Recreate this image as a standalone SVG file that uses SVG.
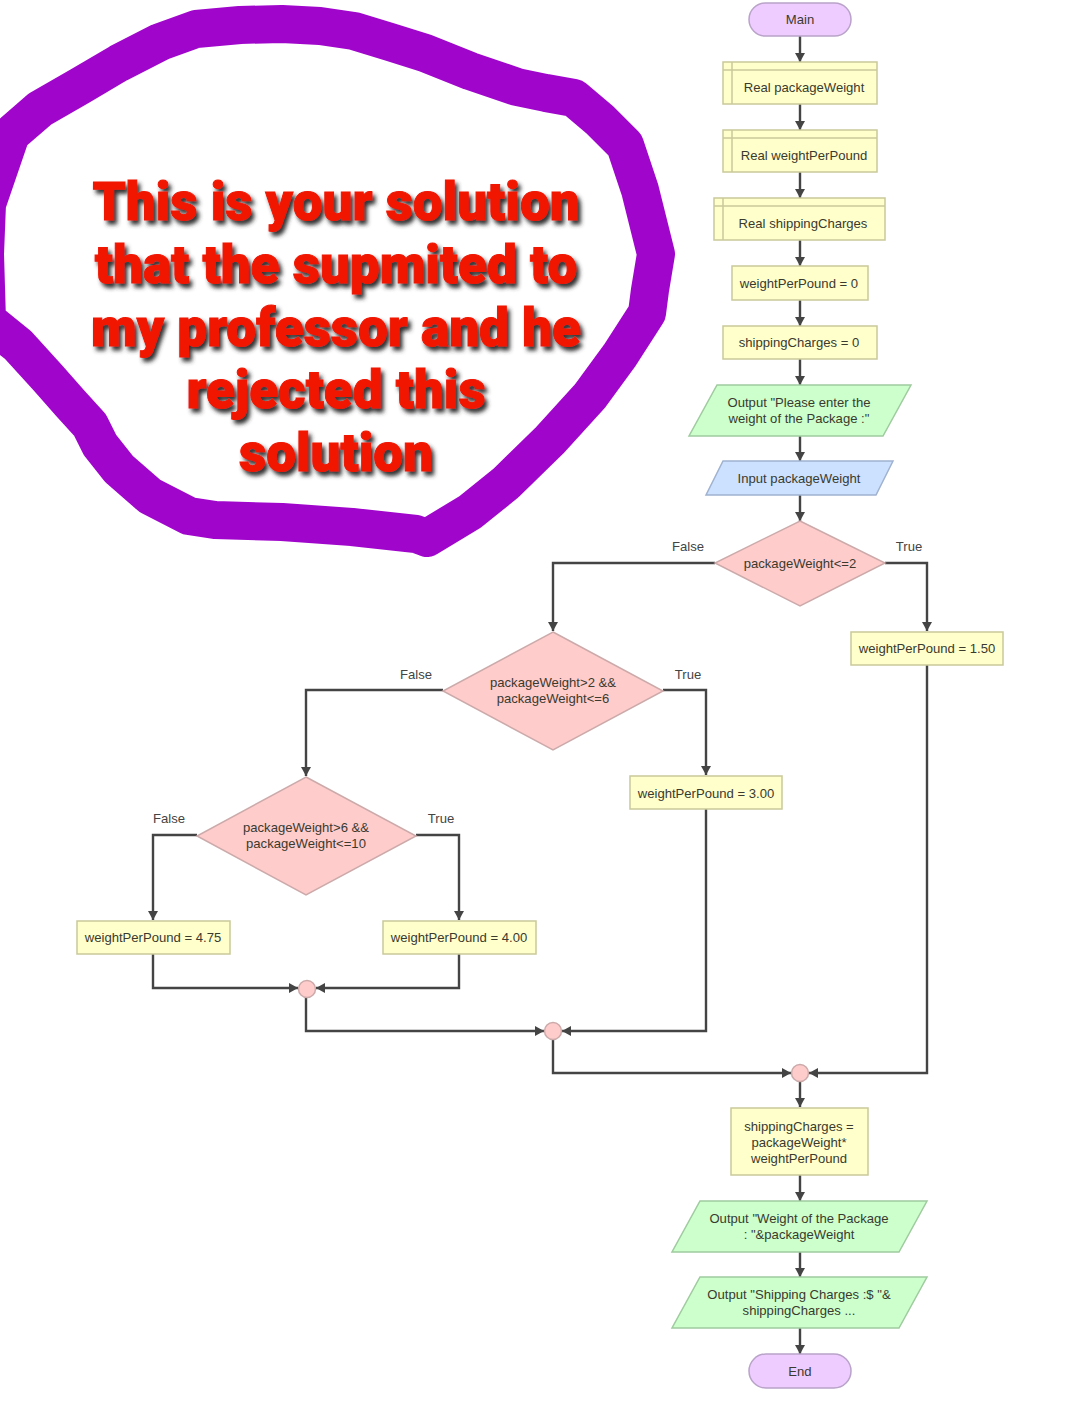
<svg xmlns="http://www.w3.org/2000/svg" width="1080" height="1406" viewBox="0 0 1080 1406">
<style>
.t{font-family:"Liberation Sans",Arial,sans-serif;font-size:13.1px;fill:#3a3a2e;text-anchor:middle}
.l{font-family:"Liberation Sans",Arial,sans-serif;font-size:13.1px;fill:#444;text-anchor:middle}
.y{fill:#ffffcc;stroke:#c9c99b;stroke-width:1.5}
.p{fill:#eeccff;stroke:#b9a3c9;stroke-width:1.5}
.g{fill:#ccffcc;stroke:#9fcb9f;stroke-width:1.5}
.b{fill:#cce0ff;stroke:#9fb3d0;stroke-width:1.5}
.r{fill:#ffcccc;stroke:#ccaaaa;stroke-width:1.5}
.c{fill:none;stroke:#444;stroke-width:2.4;marker-end:url(#a)}
.big{font-family:Roboto,"Liberation Sans",sans-serif;font-weight:900;font-size:53px;fill:#f01400;stroke:#f01400;stroke-width:1;text-anchor:middle;filter:url(#s)}
</style>
<defs>
<marker id="a" markerUnits="userSpaceOnUse" markerWidth="9" markerHeight="10" refX="9" refY="5" orient="auto"><path d="M0 0L9 5L0 10Z" fill="#444"/></marker>
<filter id="s" x="-10%" y="-20%" width="120%" height="150%"><feDropShadow dx="3" dy="4" stdDeviation="2" flood-color="#333"/></filter>
</defs>
<rect width="1080" height="1406" fill="#fff"/>
<g id="ring"><path d="M427 538L416 534L352 527L282 522L215 520L189 516L150 496L119 469L100 445L90 425L70 403L48 378L18 345L-13 320L-15 254L-13 204L11 134L40 109L80 86L119 63L160 42L196 29L240 25L282 24L320 26L354 31L390 42L425 53L470 71L517 87L546 93L574 98L600 120L625 145L640 190L656 254L650 290L647 313L620 355L590 396L550 440L506 483L470 512L427 538" fill="none" stroke="#a005cc" stroke-width="38" stroke-linecap="round" stroke-linejoin="round"/></g>
<g id="note">
<text class="big" x="336" y="220">This is your solution</text>
<text class="big" x="336" y="283">that the supmited to</text>
<text class="big" x="336" y="346">my professor and he</text>
<text class="big" x="336" y="408">rejected this</text>
<text class="big" x="336" y="471">solution</text>
</g>
<g id="connectors">
<path class="c" d="M800 36V62"/><path class="c" d="M800 104V130"/><path class="c" d="M800 172V198"/><path class="c" d="M800 240V266"/><path class="c" d="M800 300V326"/><path class="c" d="M800 359V385"/><path class="c" d="M800 436V461"/><path class="c" d="M800 495V521"/>
<path class="c" d="M715 563H553V631"/><path class="c" d="M885 563H927V631"/>
<path class="c" d="M443 690H306V776"/><path class="c" d="M663 690H706V775"/>
<path class="c" d="M197 835H153V920"/><path class="c" d="M416 835H459V920"/>
<path class="c" d="M153 954V988H298"/><path class="c" d="M459 954V988H316"/>
<path class="c" d="M306 998V1031H544"/><path class="c" d="M706 809V1031H562"/>
<path class="c" d="M553 1040V1073H791"/><path class="c" d="M927 665V1073H809"/>
<path class="c" d="M800 1082V1107"/><path class="c" d="M800 1175V1201"/><path class="c" d="M800 1252V1277"/><path class="c" d="M800 1328V1354"/>
</g>
<g id="labels">
<text class="l" x="688" y="551">False</text><text class="l" x="909" y="551">True</text>
<text class="l" x="416" y="679">False</text><text class="l" x="688" y="679">True</text>
<text class="l" x="169" y="823">False</text><text class="l" x="441" y="823">True</text>
</g>
<g id="main"><rect class="p" x="749" y="3" width="102" height="33" rx="16.500"/><text class="t" x="800" y="24">Main</text></g>
<g id="declare1"><rect class="y" x="723" y="62" width="154" height="42"/><path class="y" d="M732 62V104M723 70H877" fill="none"/><text class="t" x="804" y="92">Real packageWeight</text></g>
<g id="declare2"><rect class="y" x="723" y="130" width="154" height="42"/><path class="y" d="M732 130V172M723 138H877" fill="none"/><text class="t" x="804" y="160">Real weightPerPound</text></g>
<g id="declare3"><rect class="y" x="714" y="198" width="171" height="42"/><path class="y" d="M723 198V240M714 206H885" fill="none"/><text class="t" x="803" y="228">Real shippingCharges</text></g>
<g id="assign1"><rect class="y" x="732" y="266" width="136" height="34"/><text class="t" x="799" y="288">weightPerPound = 0</text></g>
<g id="assign2"><rect class="y" x="723" y="326" width="154" height="33"/><text class="t" x="799" y="347">shippingCharges = 0</text></g>
<g id="output1"><polygon class="g" points="717,385 911,385 883,436 689,436"/><text class="t" x="799" y="406.500">Output "Please enter the</text><text class="t" x="799" y="422.500">weight of the Package :"</text></g>
<g id="input1"><polygon class="b" points="723,461 893,461 876,495 706,495"/><text class="t" x="799" y="483">Input packageWeight</text></g>
<g id="decision1"><polygon class="r" points="800,521 885,563 800,606 715,563"/><text class="t" x="800" y="568">packageWeight&lt;=2</text></g>
<g id="assign150"><rect class="y" x="851" y="632" width="152" height="33"/><text class="t" x="927" y="653">weightPerPound = 1.50</text></g>
<g id="decision2"><polygon class="r" points="553,632 663,691 553,750 443,691"/><text class="t" x="553" y="687">packageWeight&gt;2 &amp;&amp;</text><text class="t" x="553" y="703">packageWeight&lt;=6</text></g>
<g id="assign300"><rect class="y" x="630" y="776" width="152" height="33"/><text class="t" x="706" y="798">weightPerPound = 3.00</text></g>
<g id="decision3"><polygon class="r" points="306,777 416,836 306,895 197,836"/><text class="t" x="306" y="832">packageWeight&gt;6 &amp;&amp;</text><text class="t" x="306" y="848">packageWeight&lt;=10</text></g>
<g id="assign475"><rect class="y" x="77" y="921" width="153" height="33"/><text class="t" x="153" y="942">weightPerPound = 4.75</text></g>
<g id="assign400"><rect class="y" x="383" y="921" width="153" height="33"/><text class="t" x="459" y="942">weightPerPound = 4.00</text></g>
<g id="join3"><circle class="r" cx="307" cy="989" r="8.500"/></g>
<g id="join2"><circle class="r" cx="553" cy="1031" r="8.500"/></g>
<g id="join1"><circle class="r" cx="800" cy="1073" r="8.500"/></g>
<g id="calc"><rect class="y" x="731" y="1108" width="137" height="67"/><text class="t" x="799" y="1130.500">shippingCharges =</text><text class="t" x="799" y="1146.500">packageWeight*</text><text class="t" x="799" y="1162.500">weightPerPound</text></g>
<g id="output2"><polygon class="g" points="700,1201 927,1201 899,1252 672,1252"/><text class="t" x="799" y="1223">Output "Weight of the Package</text><text class="t" x="799" y="1239">: "&amp;packageWeight</text></g>
<g id="output3"><polygon class="g" points="700,1277 927,1277 899,1328 672,1328"/><text class="t" x="799" y="1299">Output "Shipping Charges :$ "&amp;</text><text class="t" x="799" y="1315">shippingCharges ...</text></g>
<g id="end"><rect class="p" x="749" y="1354" width="102" height="34" rx="17"/><text class="t" x="800" y="1376">End</text></g>
</svg>
